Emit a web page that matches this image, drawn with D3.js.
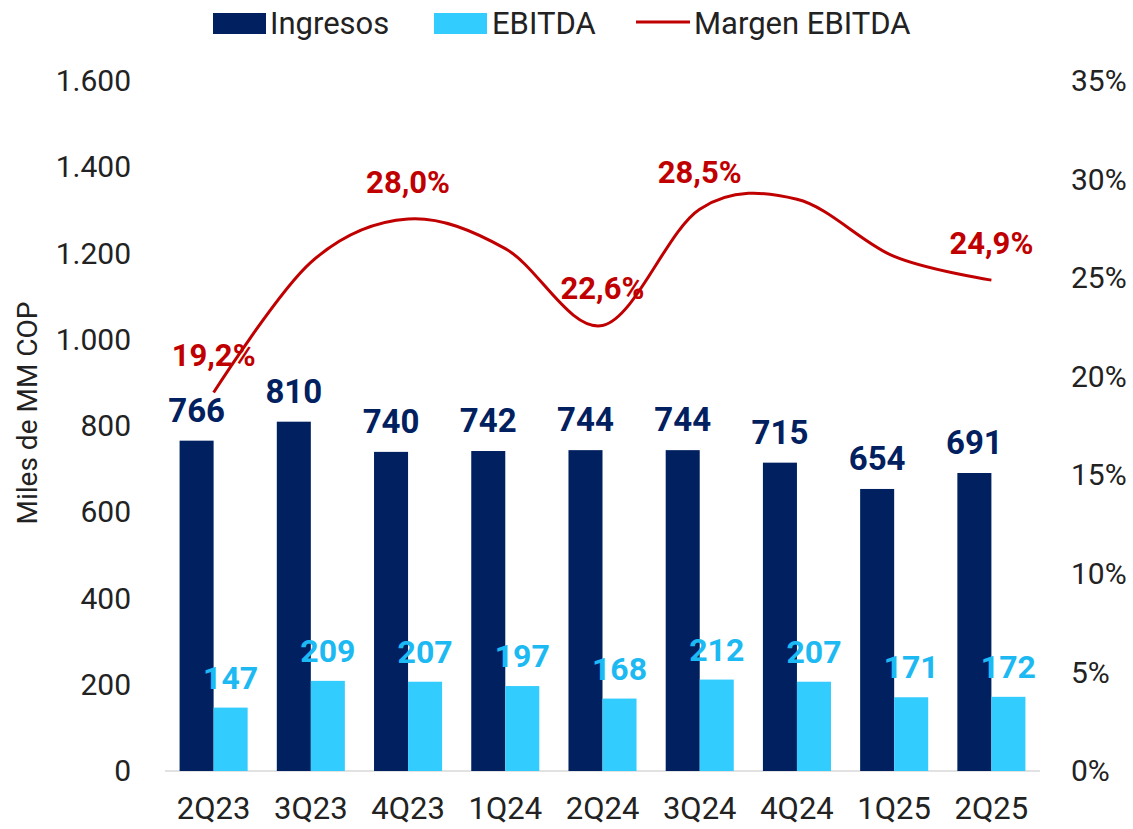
<!DOCTYPE html>
<meta charset="utf-8">
<style>
body { margin: 0; background: #fff; }
svg text { font-family: Roboto, "Noto Sans", sans-serif; }
</style>
<svg width="1133" height="829"></svg>
<script src="https://cdn.jsdelivr.net/npm/d3@7"></script>
<script>

var trimestres = ["2Q23", "3Q23", "4Q23", "1Q24", "2Q24", "3Q24", "4Q24", "1Q25", "2Q25"];
var ingresos = [766, 810, 740, 742, 744, 744, 715, 654, 691];
var ebitda = [147, 209, 207, 197, 168, 212, 207, 171, 172];
var margen = [19.2, 25.8, 28.0, 26.5, 22.6, 28.5, 29.0, 26.1, 24.9];
var margenEtiqueta = [true, false, true, false, true, true, false, false, true];
var ticksIzq = [0, 200, 400, 600, 800, 1000, 1200, 1400, 1600];
var ticksDer = [0, 5, 10, 15, 20, 25, 30, 35];

var cIngresos = "#002060", cEbitda = "#33CCFF", cEbitdaTxt = "#1DB9F2", cMargen = "#C00000";

var svg = d3.select("svg");
var margin = {top: 81, right: 93, bottom: 58, left: 165};
var ancho = 1133 - margin.left - margin.right,
    alto = 829 - margin.top - margin.bottom;

var g = svg.append("g").attr("transform", "translate(" + margin.left + "," + margin.top + ")");

var x = d3.scaleBand().domain(trimestres).range([0, ancho]).paddingInner(0.3).paddingOuter(0.15);
var xSub = d3.scaleBand().domain(["ing", "ebi"]).range([0, x.bandwidth()]);
var y = d3.scaleLinear().domain([0, 1600]).range([alto, 0]);
var y2 = d3.scaleLinear().domain([0, 35]).range([alto, 0]);

var fmt = d3.format(",");
var fmtMiles = function(v) { return fmt(v).replace(/,/g, "."); };

// ejes
var ejeIzq = g.append("g").call(d3.axisLeft(y).tickValues(ticksIzq).tickSize(0).tickPadding(34).tickFormat(fmtMiles));
var ejeDer = g.append("g").attr("transform", "translate(" + ancho + ",0)")
    .call(d3.axisRight(y2).tickValues(ticksDer).tickSize(0).tickPadding(31).tickFormat(function(d) { return d + "%"; }));
var ejeX = g.append("g").attr("transform", "translate(0," + alto + ")")
    .call(d3.axisBottom(x).tickSize(0).tickPadding(26));

[ejeIzq, ejeDer].forEach(function(e) {
  e.select(".domain").remove();
  e.selectAll("text").attr("font-size", 30).attr("fill", "#222").style("font-family", "Roboto, sans-serif");
});
ejeX.select(".domain").remove();
ejeX.selectAll("text").attr("font-size", 31).attr("fill", "#222").style("font-family", "Roboto, sans-serif");

g.append("line").attr("x1", 0).attr("x2", ancho).attr("y1", alto).attr("y2", alto)
    .attr("stroke", "#d9d9d9").attr("stroke-width", 1.5);

svg.append("text")
    .attr("transform", "translate(37,413) rotate(-90)")
    .attr("text-anchor", "middle").attr("font-size", 28).attr("fill", "#222")
    .text("Miles de MM COP");

// barras
var grupos = g.selectAll(".grupo").data(trimestres).enter().append("g")
    .attr("transform", function(d) { return "translate(" + x(d) + ",0)"; });

grupos.append("rect")
    .attr("x", xSub("ing")).attr("width", xSub.bandwidth())
    .attr("y", function(d, i) { return y(ingresos[i]); })
    .attr("height", function(d, i) { return alto - y(ingresos[i]); })
    .attr("fill", cIngresos);

grupos.append("rect")
    .attr("x", xSub("ebi")).attr("width", xSub.bandwidth())
    .attr("y", function(d, i) { return y(ebitda[i]); })
    .attr("height", function(d, i) { return alto - y(ebitda[i]); })
    .attr("fill", cEbitda);

grupos.append("text")
    .attr("x", xSub("ing") + xSub.bandwidth() / 2)
    .attr("y", function(d, i) { return y(ingresos[i]) - 19; })
    .attr("text-anchor", "middle").attr("font-size", 33).attr("font-weight", "bold")
    .attr("fill", cIngresos)
    .text(function(d, i) { return ingresos[i]; });

grupos.append("text")
    .attr("x", xSub("ebi") + xSub.bandwidth() / 2)
    .attr("y", function(d, i) { return y(ebitda[i]) - 19; })
    .attr("text-anchor", "middle").attr("font-size", 32).attr("font-weight", "bold")
    .attr("fill", cEbitdaTxt)
    .text(function(d, i) { return ebitda[i]; });

// linea de margen
var linea = d3.line()
    .x(function(d, i) { return x(trimestres[i]) + x.bandwidth() / 2; })
    .y(function(d) { return y2(d); })
    .curve(d3.curveCardinal.tension(0));

g.append("path").datum(margen)
    .attr("d", linea).attr("fill", "none")
    .attr("stroke", cMargen).attr("stroke-width", 3);

g.selectAll(".etqMargen").data(margen).enter()
    .filter(function(d, i) { return margenEtiqueta[i]; })
    .append("text")
    .attr("x", function(d) { return x(trimestres[margen.indexOf(d)]) + x.bandwidth() / 2; })
    .attr("y", function(d) { return y2(d) - 26; })
    .attr("text-anchor", "middle").attr("font-size", 31).attr("font-weight", "bold")
    .attr("fill", cMargen)
    .text(function(d) { return d.toFixed(1).replace(".", ",") + "%"; });

// leyenda
var ley = svg.append("g").attr("transform", "translate(0,23)");
ley.append("rect").attr("x", 213).attr("y", -10).attr("width", 53).attr("height", 21).attr("fill", cIngresos);
ley.append("text").attr("x", 270).attr("y", 11).attr("font-size", 31).attr("fill", "#222").text("Ingresos");
ley.append("rect").attr("x", 434).attr("y", -10).attr("width", 53).attr("height", 21).attr("fill", cEbitda);
ley.append("text").attr("x", 492).attr("y", 11).attr("font-size", 31).attr("fill", "#222").text("EBITDA");
ley.append("line").attr("x1", 636).attr("x2", 690).attr("y1", -1).attr("y2", -1).attr("stroke", cMargen).attr("stroke-width", 3);
ley.append("text").attr("x", 694).attr("y", 11).attr("font-size", 31).attr("fill", "#222").text("Margen EBITDA");

</script>
